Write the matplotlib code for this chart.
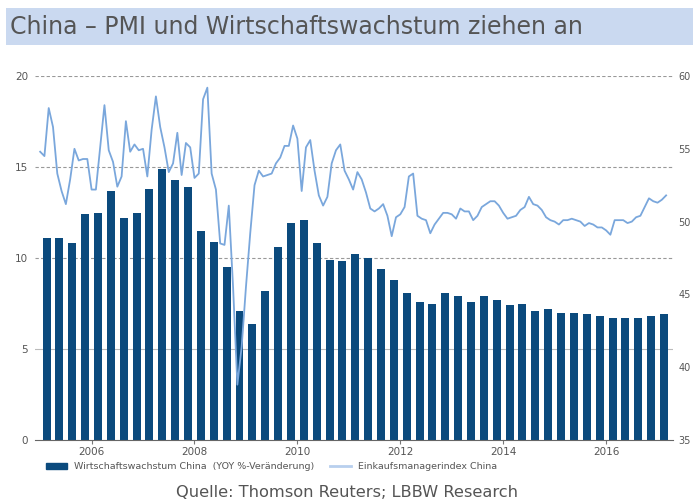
import matplotlib
matplotlib.use("Agg")
import matplotlib.pyplot as plt
import numpy as np
from matplotlib.patches import Rectangle
from matplotlib.lines import Line2D

# GDP growth China, YoY %, quarterly 2005Q1 - 2017Q1
gdp = [11.1, 11.1, 10.8, 12.4,
       12.5, 13.7, 12.2, 12.5,
       13.8, 14.9, 14.3, 13.9,
       11.5, 10.9, 9.5, 7.1,
       6.4, 8.2, 10.6, 11.9,
       12.1, 10.8, 9.9, 9.85,
       10.2, 10.0, 9.4, 8.8,
       8.1, 7.6, 7.5, 8.1,
       7.9, 7.6, 7.9, 7.7,
       7.4, 7.5, 7.1, 7.2,
       7.0, 7.0, 6.9, 6.8,
       6.7, 6.7, 6.7, 6.8,
       6.9]

# PMI China, monthly Jan 2005 - Mar 2017
pmi = [54.8, 54.5, 57.8, 56.5, 53.3, 52.1, 51.2, 52.9, 55.0, 54.2, 54.3, 54.3,
       52.2, 52.2, 55.1, 58.0, 54.9, 54.1, 52.4, 53.1, 56.9, 54.8, 55.3, 54.9,
       55.0, 53.1, 56.3, 58.6, 56.5, 55.1, 53.4, 54.0, 56.1, 53.2, 55.4, 55.1,
       53.0, 53.3, 58.4, 59.2, 53.3, 52.2, 48.5, 48.4, 51.1, 45.5, 38.8, 41.4,
       45.5, 49.2, 52.5, 53.5, 53.1, 53.2, 53.3, 54.0, 54.4, 55.2, 55.2, 56.6,
       55.7, 52.1, 55.1, 55.6, 53.5, 51.8, 51.1, 51.7, 54.0, 54.9, 55.3, 53.5,
       52.9, 52.2, 53.4, 52.9, 52.0, 50.9, 50.7, 50.9, 51.2, 50.4, 49.0, 50.3,
       50.5, 51.0, 53.1, 53.3, 50.4, 50.2, 50.1, 49.2, 49.8, 50.2, 50.6, 50.6,
       50.5, 50.2, 50.9, 50.7, 50.7, 50.1, 50.4, 51.0, 51.2, 51.4, 51.4, 51.1,
       50.6, 50.2, 50.3, 50.4, 50.8, 51.0, 51.7, 51.2, 51.1, 50.8, 50.3, 50.1,
       50.0, 49.8, 50.1, 50.1, 50.2, 50.1, 50.0, 49.7, 49.9, 49.8, 49.6, 49.6,
       49.4, 49.1, 50.1, 50.1, 50.1, 49.9, 50.0, 50.3, 50.4, 51.0, 51.6, 51.4,
       51.3, 51.5, 51.8]

year_ticks = [2006, 2008, 2010, 2012, 2014, 2016]
left_ticks = [0, 5, 10, 15, 20]
right_ticks = [35, 40, 45, 50, 55, 60]

bar_x = 2005 + np.arange(len(gdp)) * 0.25 + 0.125
pmi_x = 2005 + np.arange(len(pmi)) / 12.0

bar_color = "#0b4a7d"
line_color = "#7aa7dc"
text_gray = "#555555"

fig = plt.figure(figsize=(6.93, 5.03), dpi=100)

# title band
fig.patches.append(Rectangle((0.008, 0.91), 0.992, 0.075, transform=fig.transFigure,
                             facecolor="#cad9f0", edgecolor="none"))
fig.text(0.014, 0.946, "China \u2013 PMI und Wirtschaftswachstum ziehen an",
         fontsize=17, color=text_gray, va="center", ha="left")

ax = fig.add_axes([0.0505, 0.1252, 0.9206, 0.7237])
ax.bar(bar_x, gdp, width=0.155, color=bar_color, zorder=2)
ax.set_ylim(0, 20)
ax.set_xlim(2004.9, 2017.3)
ax.set_yticks(left_ticks)
ax.set_xticks(year_ticks)
ax.set_xticklabels([str(y) for y in year_ticks])
ax.tick_params(axis="y", length=0, labelsize=7.5, labelcolor=text_gray, pad=5)
ax.tick_params(axis="x", length=3, color="#777777", labelsize=7.5, labelcolor=text_gray, pad=2)
for v in [10, 15, 20]:
    ax.axhline(v, color="#999999", lw=0.8, ls=(0, (3, 2)), zorder=1)
ax.axhline(5, color="#bbbbbb", lw=0.8, zorder=1)
for s in ["top", "left", "right"]:
    ax.spines[s].set_visible(False)
ax.spines["bottom"].set_color("#666666")
ax.spines["bottom"].set_linestyle((0, (3, 1)))

ax2 = ax.twinx()
ax2.plot(pmi_x, pmi, color=line_color, lw=1.3, zorder=3)
ax2.set_ylim(35, 60)
ax2.set_yticks(right_ticks)
ax2.tick_params(axis="y", length=0, labelsize=7, labelcolor=text_gray, pad=4)
for s in ["top", "left", "right", "bottom"]:
    ax2.spines[s].set_visible(False)

# legend
handles = [Rectangle((0, 0), 1, 1, color=bar_color),
           Line2D([0], [0], color="#b8cfee", lw=2)]
leg = fig.legend(handles, ["Wirtschaftswachstum China  (YOY %-Ver\u00e4nderung)",
                           "Einkaufsmanagerindex China"],
                 loc="center", bbox_to_anchor=(0.392, 0.072), ncol=2, frameon=False,
                 fontsize=6.8, handlelength=2.2, columnspacing=1.6, handletextpad=0.8)
for t in leg.get_texts():
    t.set_color(text_gray)

fig.text(0.5, 0.02, "Quelle: Thomson Reuters; LBBW Research", fontsize=11.7,
         color=text_gray, ha="center", va="center")

fig.savefig("out.png", dpi=100)
